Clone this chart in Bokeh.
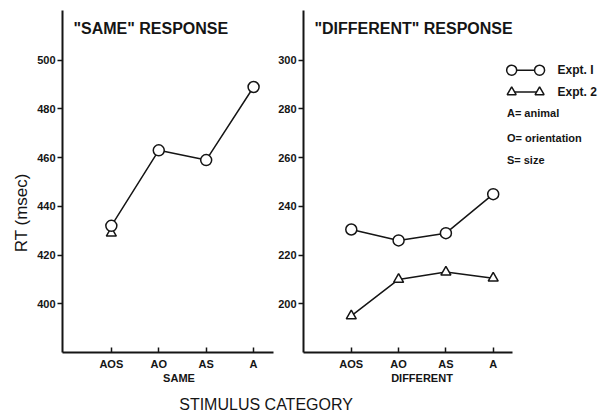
import math
from bokeh.plotting import figure
from bokeh.layouts import column, row
from bokeh.models import Range1d, FixedTicker, Label
from bokeh.embed import file_html
from bokeh.resources import INLINE

# ---- data ----
categories = ["AOS", "AO", "AS", "A"]
cat_pos = [1, 2, 3, 4]
same_expt1 = [432, 463, 459, 489]
same_expt2_pos = [1]
same_expt2 = [429]
diff_expt1 = [230.5, 226, 229, 245]
diff_expt2 = [195, 210, 213, 210.5]
same_ticks = [400, 420, 440, 460, 480, 500]
diff_ticks = [200, 220, 240, 260, 280, 300]
legend_texts = ["Expt. I", "Expt. 2", "A= animal", "O= orientation", "S= size"]

FONT = "Liberation Sans"
INK = "#151515"


def blank(width, height):
    f = figure(width=width, height=height, output_backend="svg", toolbar_location=None,
               x_range=Range1d(0, width), y_range=Range1d(0, height),
               x_axis_location=None, y_axis_location=None, title=None, min_border=0)
    f.grid.visible = False
    f.outline_line_color = None
    return f


def style(p, ticks):
    p.xgrid.visible = False
    p.ygrid.visible = False
    p.outline_line_color = None
    p.background_fill_color = "white"
    p.border_fill_color = "white"
    for ax in (p.xaxis[0], p.yaxis[0]):
        ax.axis_line_width = 2
        ax.axis_line_color = INK
        ax.major_tick_line_color = INK
        ax.major_tick_line_width = 1.5
        ax.minor_tick_line_color = None
        ax.major_label_text_font = FONT
        ax.major_label_text_font_style = "bold"
        ax.major_label_text_font_size = "11px"
        ax.major_label_text_color = INK
    xa = p.xaxis[0]
    xa.ticker = FixedTicker(ticks=cat_pos)
    xa.major_label_overrides = {c: l for c, l in zip(cat_pos, categories)}
    xa.major_tick_in = 5
    xa.major_tick_out = 0
    xa.major_label_standoff = 5
    ya = p.yaxis[0]
    ya.ticker = FixedTicker(ticks=ticks)
    ya.major_tick_in = 0
    ya.major_tick_out = 5
    ya.major_label_standoff = 2


ROW_H = 372

# ---- y-axis title strip ----
p0 = blank(32, ROW_H)
p0.add_layout(Label(x=21, y=ROW_H - 220, text="RT (msec)", text_font=FONT,
                    text_font_size="17px", text_color=INK, angle=math.pi / 2,
                    text_align="center", text_baseline="middle"))

# ---- left panel: "SAME" response ----
p1 = figure(width=243, height=ROW_H, output_backend="svg", toolbar_location=None,
            x_range=Range1d(-0.03, 4.42), y_range=Range1d(380, 520.4),
            min_border_left=30, min_border_right=2, min_border_top=10, min_border_bottom=18)
style(p1, same_ticks)

p1.line(cat_pos, same_expt1, line_color=INK, line_width=1.5)
p1.scatter(same_expt2_pos, same_expt2, marker="triangle", size=10,
           fill_color="white", line_color=INK, line_width=1.5)
p1.scatter(cat_pos, same_expt1, marker="circle", size=11,
           fill_color="white", line_color=INK, line_width=1.5)
p1.add_layout(Label(x=0.2, y=513, text='"SAME" RESPONSE', text_font=FONT,
                    text_font_style="bold", text_font_size="16px",
                    text_color=INK, text_baseline="middle"))

# ---- right panel: "DIFFERENT" response ----
p2 = figure(width=335, height=ROW_H, output_backend="svg", toolbar_location=None,
            x_range=Range1d(-0.01, 6.31), y_range=Range1d(180, 320.4),
            min_border_left=27, min_border_right=8, min_border_top=10, min_border_bottom=18)
style(p2, diff_ticks)
p2.xaxis[0].bounds = (-0.01, 4.41)

p2.line(cat_pos, diff_expt1, line_color=INK, line_width=1.5)
p2.line(cat_pos, diff_expt2, line_color=INK, line_width=1.5)
p2.scatter(cat_pos, diff_expt1, marker="circle", size=11,
           fill_color="white", line_color=INK, line_width=1.5)
p2.scatter(cat_pos, diff_expt2, marker="triangle", size=10,
           fill_color="white", line_color=INK, line_width=1.5)
p2.add_layout(Label(x=0.22, y=313, text='"DIFFERENT" RESPONSE', text_font=FONT,
                    text_font_style="bold", text_font_size="16px",
                    text_color=INK, text_baseline="middle"))

# legend (drawn by hand to mimic the original key)
lx0, lx1, ltx = 4.39, 4.98, 5.36
ly = [295.9, 286.9, 278.4, 268.2, 259.2]
p2.line([lx0, lx1], [ly[0], ly[0]], line_color=INK, line_width=1.5)
p2.scatter([lx0, lx1], [ly[0], ly[0]], marker="circle", size=10,
           fill_color="white", line_color=INK, line_width=1.5)
p2.line([lx0, lx1], [ly[1], ly[1]], line_color=INK, line_width=1.5)
p2.scatter([lx0, lx1], [ly[1], ly[1]], marker="triangle", size=9,
           fill_color="white", line_color=INK, line_width=1.5)
for i, t in enumerate(legend_texts):
    p2.add_layout(Label(x=ltx if i < 2 else 4.29, y=ly[i], text=t, text_font=FONT,
                        text_font_style="bold",
                        text_font_size="12px" if i < 2 else "11px",
                        text_color=INK, text_baseline="middle"))

# ---- bottom strip: category axis titles and overall title ----
BOT_H = 411 - ROW_H
p3 = blank(610, BOT_H)
for txt, cx in (("SAME", 178.5), ("DIFFERENT", 421.5)):
    p3.add_layout(Label(x=cx, y=BOT_H - 5, text=txt, text_font=FONT,
                        text_font_style="bold", text_font_size="11px",
                        text_color=INK, text_align="center", text_baseline="middle"))
p3.add_layout(Label(x=270, y=7.5, text="STIMULUS   CATEGORY", text_font=FONT,
                    text_font_size="16px", text_color=INK, text_align="center",
                    text_baseline="middle"))

layout = column(row(p0, p1, p2), p3)
open("out.html", "w").write(file_html(layout, INLINE))
